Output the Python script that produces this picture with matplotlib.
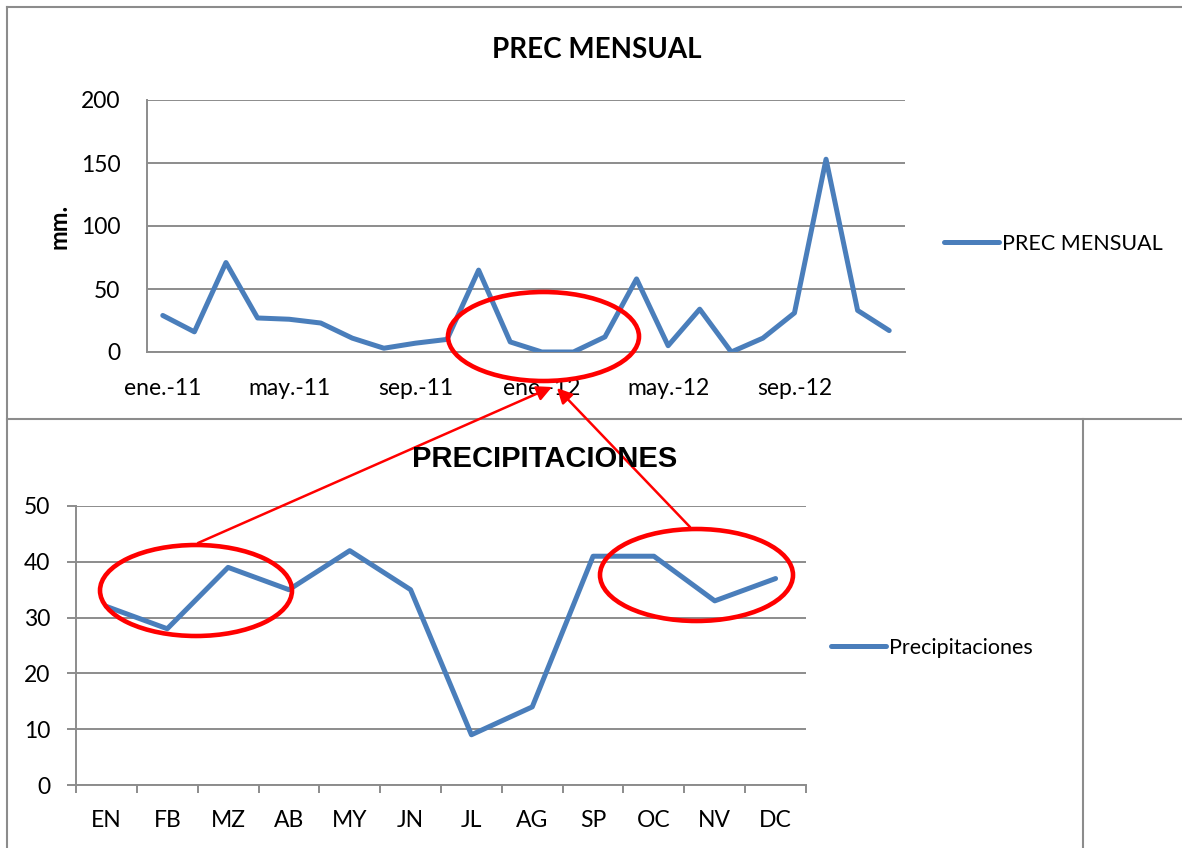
import matplotlib.pyplot as plt
from matplotlib.patches import Ellipse

# Datos
meses_24 = ['ene.-11', 'feb.-11', 'mar.-11', 'abr.-11', 'may.-11', 'jun.-11',
            'jul.-11', 'ago.-11', 'sep.-11', 'oct.-11', 'nov.-11', 'dic.-11',
            'ene.-12', 'feb.-12', 'mar.-12', 'abr.-12', 'may.-12', 'jun.-12',
            'jul.-12', 'ago.-12', 'sep.-12', 'oct.-12', 'nov.-12', 'dic.-12']
prec_mensual = [29, 16, 71, 27, 26, 23, 11, 3, 7, 10, 65, 8,
                0, 0, 12, 58, 5, 34, 0, 11, 31, 153, 33, 17]

meses_12 = ['EN', 'FB', 'MZ', 'AB', 'MY', 'JN', 'JL', 'AG', 'SP', 'OC', 'NV', 'DC']
precipitaciones = [32, 28, 39, 35, 42, 35, 9, 14, 41, 41, 33, 37]

W, H = 1182, 848
azul = '#4A7EBB'
gris = '#8C8C8C'
rojo = '#FF0000'
fuente = 'Lato'

plt.rcParams['font.family'] = [fuente, 'DejaVu Sans']

fig = plt.figure(figsize=(W / 100, H / 100), dpi=100)


def caja(x0, y0, x1, y1):
    # convierte pixeles (origen arriba-izquierda) a coordenadas de figura
    return [x0 / W, 1 - y1 / H, (x1 - x0) / W, (y1 - y0) / H]


# --- Grafico superior: PREC MENSUAL ---
ax1 = fig.add_axes(caja(147, 100, 905, 352))
x1 = list(range(len(prec_mensual)))
ax1.plot(x1, prec_mensual, color=azul, lw=3.6, solid_joinstyle='round',
         solid_capstyle='round', label='PREC MENSUAL', zorder=3)
ax1.set_xlim(-0.5, len(prec_mensual) - 0.5)
ax1.set_ylim(0, 200)
ax1.set_yticks([0, 50, 100, 150, 200])
ax1.set_xticks(x1[::4])
ax1.set_xticklabels(meses_24[::4])
ax1.grid(axis='y', color=gris, lw=1.4)
ax1.set_axisbelow(True)
for s in ['top', 'right']:
    ax1.spines[s].set_visible(False)
for s in ['left', 'bottom']:
    ax1.spines[s].set_color(gris)
    ax1.spines[s].set_linewidth(1.4)
ax1.tick_params(axis='x', length=0, pad=19, labelsize=16.5)
ax1.tick_params(axis='y', length=0, pad=19, labelsize=16.5)
ax1.legend(loc='center left', bbox_to_anchor=(944 / W, 1 - 244 / H),
           bbox_transform=fig.transFigure, frameon=False, fontsize=15.5,
           handlelength=2.55, handletextpad=0.15, borderpad=0, borderaxespad=0)

fig.text(597 / W, 1 - 58 / H, 'PREC MENSUAL', ha='center', va='baseline',
         fontsize=20, fontweight='bold')
fig.text(59 / W, 1 - 226 / H, 'mm.', ha='center', va='center', rotation=90,
         fontsize=17, fontweight='bold')

# --- Grafico inferior: PRECIPITACIONES ---
ax2 = fig.add_axes(caja(76, 506, 806, 785))
x2 = list(range(len(precipitaciones)))
ax2.plot(x2, precipitaciones, color=azul, lw=3.6, solid_joinstyle='round',
         solid_capstyle='round', label='Precipitaciones', zorder=3)
ax2.set_xlim(-0.5, len(precipitaciones) - 0.5)
ax2.set_ylim(0, 50)
ax2.set_yticks(range(0, 51, 10))
ax2.set_xticks(x2)
ax2.set_xticklabels(meses_12)
ax2.set_xticks([i - 0.5 for i in range(len(precipitaciones) + 1)], minor=True)
ax2.grid(axis='y', color=gris, lw=1.4)
ax2.set_axisbelow(True)
for s in ['top', 'right']:
    ax2.spines[s].set_visible(False)
for s in ['left', 'bottom']:
    ax2.spines[s].set_color(gris)
    ax2.spines[s].set_linewidth(1.4)
ax2.tick_params(axis='x', which='major', length=0, pad=18, labelsize=16.5)
ax2.tick_params(axis='x', which='minor', length=6, width=1.4, color=gris)
ax2.tick_params(axis='y', length=6.5, width=1.4, color=gris, pad=12, labelsize=16.5)
ax2.legend(loc='center left', bbox_to_anchor=(831 / W, 1 - 648 / H),
           bbox_transform=fig.transFigure, frameon=False, fontsize=15.5,
           handlelength=2.55, handletextpad=0.15, borderpad=0, borderaxespad=0)

fig.text(545 / W, 1 - 467 / H, 'PRECIPITACIONES', ha='center', va='baseline',
         fontsize=21, fontweight='bold', family='Liberation Sans')

# --- Capa de anotaciones (marcos, elipses y flechas) en pixeles ---
ov = fig.add_axes([0, 0, 1, 1], facecolor='none')
ov.set_xlim(0, W)
ov.set_ylim(H, 0)
ov.axis('off')

# marcos de los graficos
ov.plot([7, W], [7, 7], color=gris, lw=1.5)
ov.plot([7, 7], [7, H], color=gris, lw=1.5)
ov.plot([7, W], [419, 419], color=gris, lw=1.5)
ov.plot([1083, 1083], [419, H], color=gris, lw=1.5)

for cx, cy, w, h in [(543.5, 336.5, 191, 89), (196, 590.5, 192, 91), (696.5, 575, 193, 92)]:
    ov.add_patch(Ellipse((cx, cy), w, h, fill=False, edgecolor=rojo, lw=3.3, zorder=5))

for (xa, ya), (xb, yb) in [((198, 543), (552, 387)), ((690, 527), (557, 388))]:
    ov.annotate('', xy=(xb, yb), xytext=(xa, ya),
                arrowprops=dict(arrowstyle='-|>,head_length=0.9,head_width=0.45',
                                color=rojo, lw=1.8, shrinkA=0, shrinkB=0), zorder=6)

fig.savefig('out.png', dpi=100)
